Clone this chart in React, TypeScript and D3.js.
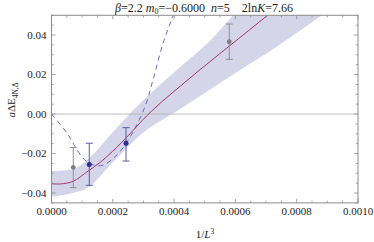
import React from "react";
import * as d3 from "d3";

// ---- data ----
const fitX = [0, 3e-5, 7e-5, 1.2e-4, 1.6e-4, 2.0e-4, 2.5e-4, 3.1e-4, 3.6e-4, 4.2e-4, 4.85e-4, 5.8e-4, 7.06e-4, 8.1e-4];
const fitY = [-0.0353, -0.0354, -0.0341, -0.0288, -0.0243, -0.0188, -0.011, -0.001, 0.0062, 0.0141, 0.0225, 0.0344, 0.0501, 0.0631];

const bandX = [0, 7e-5, 1.22e-4, 1.9e-4, 2.9e-4, 4.2e-4, 5.2e-4, 6.0e-4, 7.0e-4, 8.0e-4, 9.0e-4, 1.0e-3];
const bandUpper = [-0.0289, -0.0278, -0.0225, -0.0109, 0.0056, 0.0238, 0.0375, 0.0515, 0.069, 0.087, 0.105, 0.123];
const bandLower = [-0.0419, -0.04, -0.037, -0.0261, -0.0106, 0.0025, 0.0127, 0.0208, 0.0305, 0.041, 0.052, 0.063];

const dashX = [0, 5e-5, 7.5e-5, 1.0e-4, 1.2e-4, 1.4e-4, 1.6e-4, 1.8e-4, 2.07e-4, 2.33e-4, 2.66e-4, 3.05e-4, 3.31e-4, 3.64e-4, 3.97e-4, 4.2e-4];
const dashY = [0, -0.0095, -0.016, -0.0218, -0.0247, -0.0259, -0.0262, -0.025, -0.0216, -0.0172, -0.009, 0.0037, 0.0172, 0.0359, 0.0501, 0.061];

const grayPtsX = [7.11e-5, 5.8e-4];
const grayPtsY = [-0.027, 0.0366];
const grayErrLo = [-0.0373, 0.0277];
const grayErrHi = [-0.0169, 0.0456];

const bluePtsX = [1.233e-4, 2.431e-4];
const bluePtsY = [-0.0255, -0.0148];
const blueErrLo = [-0.0361, -0.0238];
const blueErrHi = [-0.0148, -0.0069];

const xMajor = [0, 0.0002, 0.0004, 0.0006, 0.0008, 0.001];
const xLabels = ["0.0000", "0.0002", "0.0004", "0.0006", "0.0008", "0.0010"];
const yMajor = [-0.04, -0.02, 0, 0.02, 0.04];
const yLabels = ["\u22120.04", "\u22120.02", "0.00", "0.02", "0.04"];

export default function App() {
  const W = 374, H = 242;
  const L = 51.5, R = 358, T = 15.3, B = 202.9;
  const x = d3.scaleLinear().domain([0, 0.001]).range([L, R]);
  const y = d3.scaleLinear().domain([-0.045, 0.05]).range([B, T]);

  const area = d3.area<number>()
    .x((_, i) => x(bandX[i]))
    .y0((_, i) => y(bandLower[i]))
    .y1((_, i) => y(bandUpper[i]))
    .curve(d3.curveMonotoneX);
  const fitLine = d3.line<number>()
    .x((_, i) => x(fitX[i]))
    .y((_, i) => y(fitY[i]))
    .curve(d3.curveCatmullRom);
  const dashLine = d3.line<number>()
    .x((_, i) => x(dashX[i]))
    .y((_, i) => y(dashY[i]))
    .curve(d3.curveCatmullRom);

  const xMinor = d3.range(0, 0.00100001, 0.00005);
  const yMinor = d3.range(-0.045, 0.05001, 0.005);
  const frame = "#8c8c8c";
  const font = "'Liberation Serif', 'Times New Roman', serif";

  return (
    <svg width={W} height={H} style={{ position: "absolute", left: 0, top: 0 }} fontFamily={font}>
      <defs>
        <clipPath id="plot">
          <rect x={L} y={T} width={R - L} height={B - T} />
        </clipPath>
      </defs>
      <g clipPath="url(#plot)">
        <path d={area(bandX) || ""} fill="#d5d5ea" />
        <line x1={L} x2={R} y1={y(0)} y2={y(0)} stroke="#b0b0b0" strokeWidth={0.8} />
        <path d={dashLine(dashX) || ""} fill="none" stroke="#6a6abf" strokeWidth={1} strokeDasharray="5,4" />
        <path d={fitLine(fitX) || ""} fill="none" stroke="#a8336e" strokeWidth={1} />
        {grayPtsX.map((v, i) => (
          <g key={"g" + i} stroke="#8f8f8f" strokeWidth={1}>
            <line x1={x(v)} x2={x(v)} y1={y(grayErrLo[i])} y2={y(grayErrHi[i])} />
            <line x1={x(v) - 3.5} x2={x(v) + 3.5} y1={y(grayErrLo[i])} y2={y(grayErrLo[i])} />
            <line x1={x(v) - 3.5} x2={x(v) + 3.5} y1={y(grayErrHi[i])} y2={y(grayErrHi[i])} />
            <circle cx={x(v)} cy={y(grayPtsY[i])} r={2.4} fill="#7f7f7f" stroke="none" />
          </g>
        ))}
        {bluePtsX.map((v, i) => (
          <g key={"b" + i} stroke="#5a5aa8" strokeWidth={1}>
            <line x1={x(v)} x2={x(v)} y1={y(blueErrLo[i])} y2={y(blueErrHi[i])} />
            <line x1={x(v) - 3.5} x2={x(v) + 3.5} y1={y(blueErrLo[i])} y2={y(blueErrLo[i])} />
            <line x1={x(v) - 3.5} x2={x(v) + 3.5} y1={y(blueErrHi[i])} y2={y(blueErrHi[i])} />
            <circle cx={x(v)} cy={y(bluePtsY[i])} r={2.5} fill="#2e2e90" stroke="none" />
          </g>
        ))}
      </g>
      {/* frame */}
      <rect x={L} y={T} width={R - L} height={B - T} fill="none" stroke={frame} strokeWidth={1} />
      {xMinor.map((v, i) => {
        const major = i % 4 === 0;
        const len = major ? 4 : 2.2;
        return (
          <g key={"xt" + i} stroke={frame} strokeWidth={0.8}>
            <line x1={x(v)} x2={x(v)} y1={B} y2={B - len} />
            <line x1={x(v)} x2={x(v)} y1={T} y2={T + len} />
          </g>
        );
      })}
      {yMinor.map((v, i) => {
        const major = Math.abs(Math.round(v / 0.02) * 0.02 - v) < 1e-9;
        const len = major ? 4 : 2.2;
        return (
          <g key={"yt" + i} stroke={frame} strokeWidth={0.8}>
            <line x1={L} x2={L + len} y1={y(v)} y2={y(v)} />
            <line x1={R} x2={R - len} y1={y(v)} y2={y(v)} />
          </g>
        );
      })}
      {xMajor.map((v, i) => (
        <text key={"xl" + i} x={x(v)} y={215} fontSize={11} textAnchor="middle" fill="#222">{xLabels[i]}</text>
      ))}
      {yMajor.map((v, i) => (
        <text key={"yl" + i} x={46.5} y={y(v) + 3.8} fontSize={11} textAnchor="end" fill="#222">{yLabels[i]}</text>
      ))}
      {/* title */}
      <text x={204} y={12} fontSize={12} textAnchor="middle" fill="#222" style={{ whiteSpace: "pre" }}>
        <tspan fontStyle="italic">β</tspan>
        <tspan>=2.2 </tspan>
        <tspan fontStyle="italic">m</tspan>
        <tspan fontSize={8} dy={2}>0</tspan>
        <tspan dy={-2}>=−0.6000  </tspan>
        <tspan fontStyle="italic">n</tspan>
        <tspan>=5    2ln</tspan>
        <tspan fontStyle="italic">K</tspan>
        <tspan>=7.66</tspan>
      </text>
      {/* x label */}
      <text x={205} y={238} fontSize={11} textAnchor="middle" fill="#222">
        <tspan>1/</tspan>
        <tspan fontStyle="italic">L</tspan>
        <tspan fontSize={7.5} dy={-4}>3</tspan>
      </text>
      {/* y label */}
      <text transform={`translate(15,${100}) rotate(-90)`} fontSize={11} textAnchor="middle" fill="#222">
        <tspan fontStyle="italic">a</tspan>
        <tspan>ΔE</tspan>
        <tspan fontSize={7.5} dy={2.5}>4N,Δ</tspan>
      </text>
    </svg>
  );
}
